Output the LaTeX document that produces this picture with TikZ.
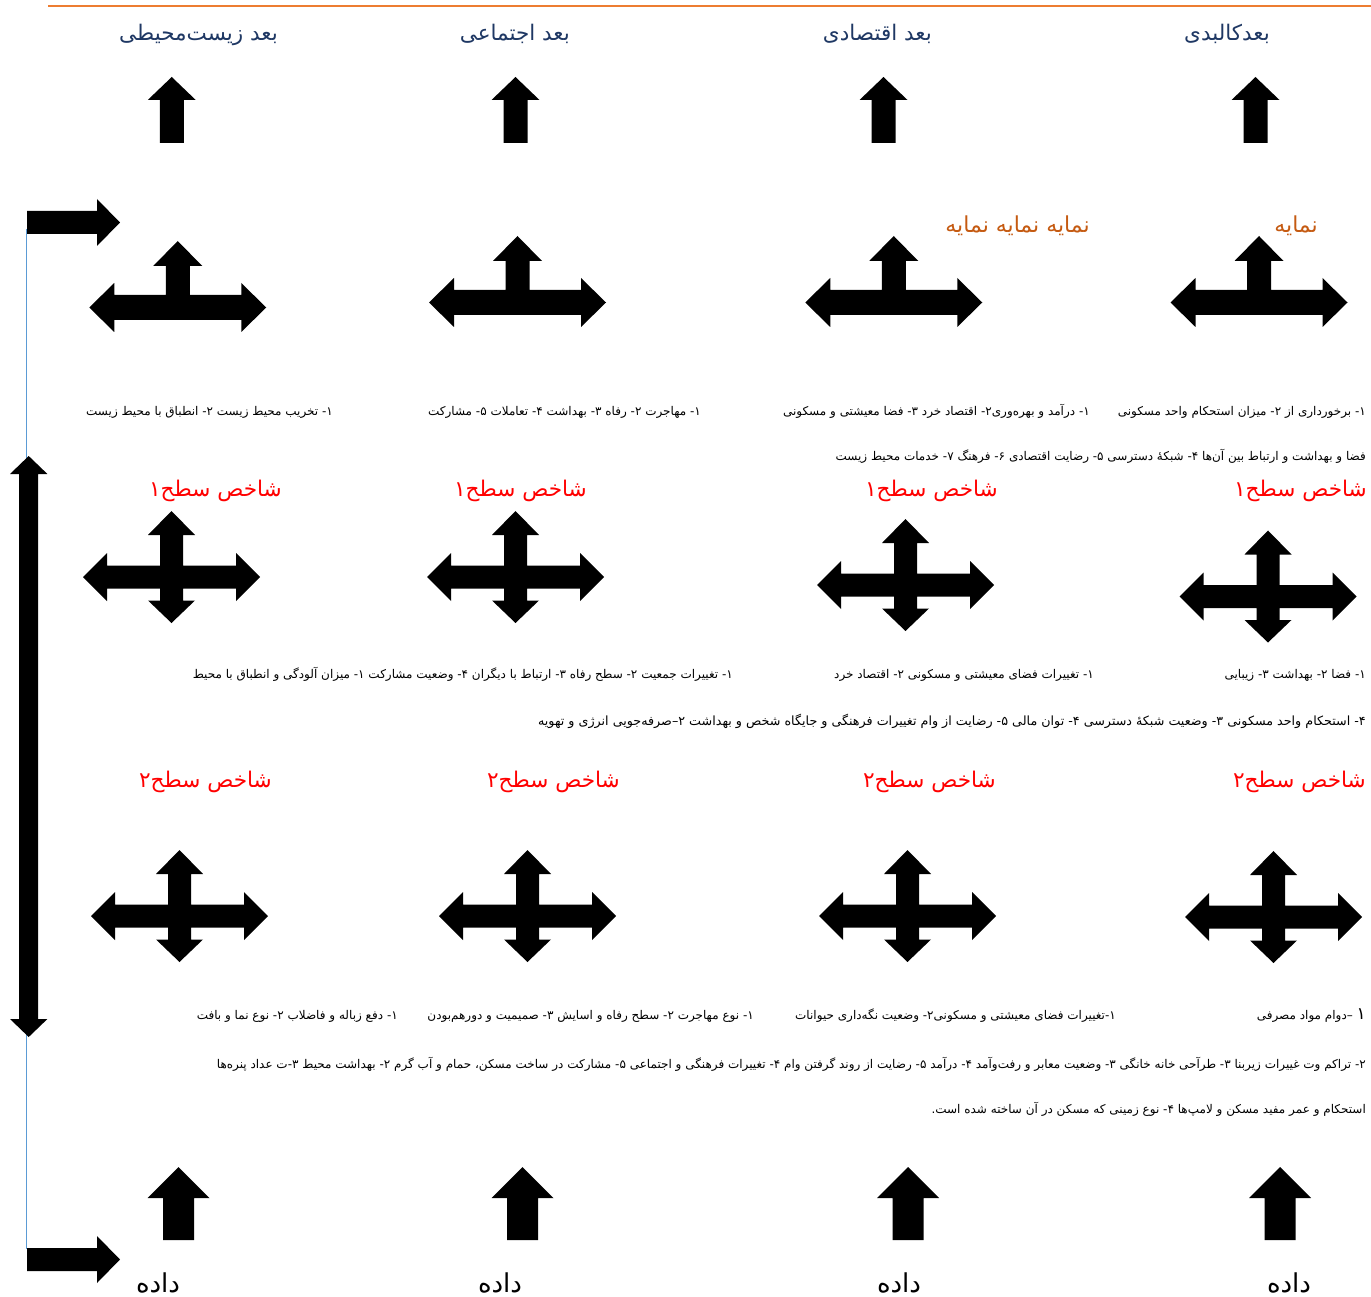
\documentclass[tikz,border=0pt]{standalone}
\usepackage{fontspec}
\newfontfamily\arabicfont[Script=Arabic]{DejaVu Sans}
\TeXXeTstate=1
\definecolor{navyhdr}{RGB}{31,56,100}
\definecolor{orgline}{RGB}{237,125,49}
\definecolor{orgtext}{RGB}{197,90,17}
\definecolor{blueline}{RGB}{91,155,213}
\tikzset{
  hdr/.style={font=\arabicfont\fontsize{21.5}{25}\selectfont, text=navyhdr, inner sep=0pt, anchor=base east},
  smalltxt/.style={font=\arabicfont\fontsize{12}{14}\selectfont, text=black, inner sep=0pt, anchor=base east},
  redtxt/.style={font=\arabicfont\fontsize{21.6}{25}\selectfont, text=red, inner sep=0pt, anchor=base east},
  orgtxt/.style={font=\arabicfont\fontsize{22}{26}\selectfont, text=orgtext, inner sep=0pt, anchor=base east},
  datatxt/.style={font=\arabicfont\fontsize{26}{30}\selectfont, text=black, inner sep=0pt, anchor=base},
  upsmall/.pic={\fill[black] (0,0) -- (24,23) -- (12,23) -- (12,66) -- (-12,66) -- (-12,23) -- (-24,23) -- cycle;},
  upbig/.pic={\fill[black] (0,0) -- (31,31) -- (15.5,31) -- (15.5,73) -- (-15.5,73) -- (-15.5,31) -- (-31,31) -- cycle;},
  tarrow/.pic={\fill[black] (-88.5,0) -- (-63.5,-24.5) -- (-63.5,-12.5) -- (-12,-12.5) -- (-12,-41.5) -- (-24.5,-41.5) -- (0,-66.5) -- (24.5,-41.5) -- (12,-41.5) -- (12,-12.5) -- (63.5,-12.5) -- (63.5,-24.5) -- (88.5,0) -- (63.5,24.5) -- (63.5,12.5) -- (-63.5,12.5) -- (-63.5,24.5) -- cycle;},
  crossarrow/.pic={\fill[black] (-88.5,0) -- (-64.5,-24) -- (-64.5,-11.5) -- (-11.5,-11.5) -- (-11.5,-42) -- (-23.5,-42) -- (0,-66) -- (23.5,-42) -- (11.5,-42) -- (11.5,-11.5) -- (64.5,-11.5) -- (64.5,-24) -- (88.5,0) -- (64.5,24) -- (64.5,11.5) -- (11.5,11.5) -- (11.5,23.5) -- (23.5,23.5) -- (0,46) -- (-23.5,23.5) -- (-11.5,23.5) -- (-11.5,11.5) -- (-64.5,11.5) -- (-64.5,24) -- cycle;},
  rightarrow/.pic={\fill[black] (0,-11.5) -- (70,-11.5) -- (70,-23.5) -- (93,0) -- (70,23.5) -- (70,11.5) -- (0,11.5) -- cycle;},
}
\begin{document}
\begin{tikzpicture}[x=1pt,y=-1pt]
\useasboundingbox[fill=white] (0,0) rectangle (1371,1297);
% top orange line
\coordinate (ol1) at (48,6);
\coordinate (ol2) at (1371,6);
\draw[orgline, line width=1.3pt] (ol1) -- (ol2);
% headers
\node[hdr] (h1) at (278,41) {\beginR بعد زیست‌محیطی\endR};
\node[hdr] (h2) at (570,41) {\beginR بعد اجتماعی\endR};
\node[hdr] (h3) at (932,41) {\beginR بعد اقتصادی\endR};
\node[hdr] (h4) at (1270,41) {\beginR بعدکالبدی\endR};
% top up arrows
\pic at (171.75,77) {upsmall};
\pic at (515.5,77) {upsmall};
\pic at (883.5,77) {upsmall};
\pic at (1255.5,77) {upsmall};
% orange labels
\node[orgtxt] (o1) at (1318,233) {\beginR نمایه\endR};
\node[orgtxt] (o2) at (1090,233) {\beginR نمایه نمایه نمایه\endR};
% T arrows
\pic at (177.75,307.5) {tarrow};
\pic at (517.5,302.5) {tarrow};
\pic at (893.75,302.5) {tarrow};
\pic at (1259,302.5) {tarrow};
% left blue line and right arrows
\coordinate (bl1) at (26.7,229);
\coordinate (bl2) at (26.7,1249);
\draw[blueline, line width=1.2pt] (bl1) -- (bl2);
\pic at (27,222.5) {rightarrow};
\pic at (27,1259.5) {rightarrow};
% vertical double arrow
\fill[black] (28.7,456) -- (47.4,474) -- (38.2,474) -- (38.2,1019) -- (47.4,1019) -- (28.7,1037) -- (10,1019) -- (19.2,1019) -- (19.2,474) -- (10,474) -- cycle;
% row 1 texts
\node[smalltxt] (r1a) at (333,415) {\beginR ۱- تخریب محیط زیست ۲- انطباق با محیط زیست\endR};
\node[smalltxt] (r1b) at (701,415) {\beginR ۱- مهاجرت ۲- رفاه ۳- بهداشت ۴- تعاملات ۵- مشارکت\endR};
\node[smalltxt] (r1c) at (1090,415) {\beginR ۱- درآمد و بهره‌وری۲- اقتصاد خرد ۳- فضا معیشتی و مسکونی\endR};
\node[smalltxt] (r1d) at (1366,415) {\beginR ۱- برخورداری از ۲- میزان استحکام واحد مسکونی\endR};
\node[smalltxt] (r1e) at (1366,460) {\beginR فضا و بهداشت و ارتباط بین آن‌ها ۴- شبکهٔ دسترسی ۵- رضایت اقتصادی ۶- فرهنگ ۷- خدمات محیط زیست\endR};
% level 1 red
\node[redtxt] (s1a) at (282,496) {\beginR شاخص سطح۱\endR};
\node[redtxt] (s1b) at (587,496) {\beginR شاخص سطح۱\endR};
\node[redtxt] (s1c) at (998,496) {\beginR شاخص سطح۱\endR};
\node[redtxt] (s1d) at (1367,496) {\beginR شاخص سطح۱\endR};
% level 1 crosses
\pic at (171.5,577) {crossarrow};
\pic at (515.5,577) {crossarrow};
\pic at (905.5,585) {crossarrow};
\pic at (1268,596.5) {crossarrow};
% row 2 texts
\node[smalltxt] (r2a) at (733,678) {\beginR ۱- تغییرات جمعیت ۲- سطح رفاه ۳- ارتباط با دیگران ۴- وضعیت مشارکت ۱- میزان آلودگی و انطباق با محیط\endR};
\node[smalltxt] (r2b) at (1094,678) {\beginR ۱- تغییرات فضای معیشتی و مسکونی ۲- اقتصاد خرد\endR};
\node[smalltxt] (r2c) at (1366,678) {\beginR ۱- فضا ۲- بهداشت ۳- زیبایی\endR};
\node[smalltxt, font=\arabicfont\fontsize{12.7}{15}\selectfont] (r2d) at (1366,725) {\beginR ۴- استحکام واحد مسکونی ۳- وضعیت شبکهٔ دسترسی ۴- توان مالی ۵- رضایت از وام تغییرات فرهنگی و جایگاه شخص و بهداشت ۲–صرفه‌جویی انرژی و تهویه\endR};
% level 2 red
\node[redtxt] (s2a) at (272,787) {\beginR شاخص سطح۲\endR};
\node[redtxt] (s2b) at (620,787) {\beginR شاخص سطح۲\endR};
\node[redtxt] (s2c) at (996,787) {\beginR شاخص سطح۲\endR};
\node[redtxt] (s2d) at (1366,787) {\beginR شاخص سطح۲\endR};
% level 2 crosses
\pic at (179.5,916) {crossarrow};
\pic at (527.5,916) {crossarrow};
\pic at (907.5,916) {crossarrow};
\pic at (1273.5,917) {crossarrow};
% row 3 texts
\node[smalltxt] (r3a) at (398,1019) {\beginR ۱- دفع زباله و فاضلاب ۲- نوع نما و بافت\endR};
\node[smalltxt] (r3b) at (754,1019) {\beginR ۱- نوع مهاجرت ۲- سطح رفاه و اسایش ۳- صمیمیت و دورهم‌بودن\endR};
\node[smalltxt] (r3c) at (1116,1019) {\beginR ۱-تغییرات فضای معیشتی و مسکونی۲- وضعیت نگه‌داری حیوانات\endR};
\node[smalltxt] (r3d) at (1366,1019) {\beginR {\fontsize{17}{19}\selectfont ۱} –دوام مواد مصرفی\endR};
\node[smalltxt] (r3e) at (1366,1068) {\beginR ۲- تراکم وت غییرات زیربنا ۳- طرآحی خانه خانگی ۳- وضعیت معابر و رفت‌وآمد ۴- درآمد ۵- رضایت از روند گرفتن وام ۴- تغییرات فرهنگی و اجتماعی ۵- مشارکت در ساخت مسکن، حمام و آب گرم ۲- بهداشت محیط ۳-ت عداد پنره‌ها\endR};
\node[smalltxt] (r3f) at (1366,1113) {\beginR استحکام و عمر مفید مسکن و لامپ‌ها ۴- نوع زمینی که مسکن در آن ساخته شده است.\endR};
% bottom up arrows
\pic at (178.5,1167) {upbig};
\pic at (522.5,1167) {upbig};
\pic at (908,1167) {upbig};
\pic at (1280,1167) {upbig};
% data labels
\node[datatxt] (d1) at (158,1292) {\beginR داده\endR};
\node[datatxt] (d2) at (500,1292) {\beginR داده\endR};
\node[datatxt] (d3) at (899,1292) {\beginR داده\endR};
\node[datatxt] (d4) at (1289,1292) {\beginR داده\endR};
\end{tikzpicture}
\end{document}
